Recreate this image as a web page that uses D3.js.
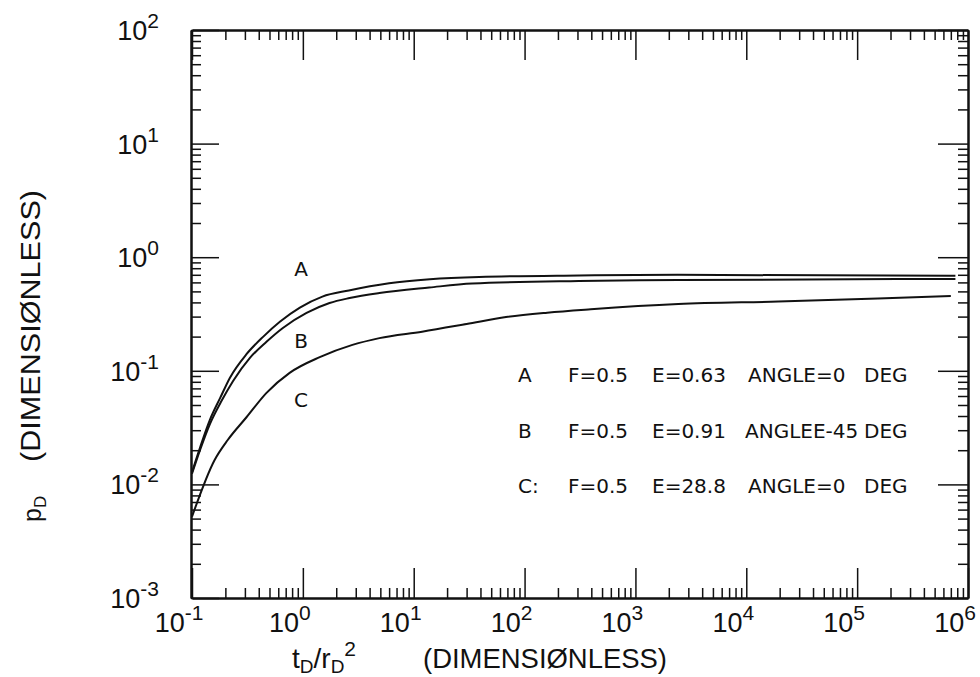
<!DOCTYPE html>
<html>
<head>
<meta charset="utf-8">
<script src="https://cdn.jsdelivr.net/npm/d3@7"></script>
<style>
  html, body { margin: 0; padding: 0; background: #fff; }
  svg { display: block; }
  text { font-family: "Liberation Sans", Arial, sans-serif; fill: #111; }
  .legend text, .curve-label { font-family: "DejaVu Sans", "Liberation Sans", sans-serif; }
</style>
</head>
<body>
<svg id="chart" width="980" height="677"></svg>
<script>
// Dimensionless pressure p_D against dimensionless time t_D/r_D^2, three cases

// Case A: F=0.5, E=0.63, angle 0 deg
const timeA = [0.1, 0.118, 0.145, 0.18, 0.22, 0.31, 0.44, 0.62, 0.94, 1.5, 2.6, 6, 14, 39, 310, 2400, 7.7e5];
const pressureA = [0.0128, 0.021, 0.037, 0.058, 0.087, 0.14, 0.2, 0.27, 0.36, 0.45, 0.51, 0.59, 0.64, 0.67, 0.69, 0.70, 0.685];

// Case B: F=0.5, E=0.91, angle 45 deg
const timeB = [0.1, 0.118, 0.145, 0.186, 0.234, 0.333, 0.47, 0.66, 1.08, 1.74, 2.64, 4.9, 13.8, 33.7, 308, 2440, 7.7e5];
const pressureB = [0.0124, 0.020, 0.034, 0.055, 0.081, 0.13, 0.18, 0.238, 0.323, 0.395, 0.437, 0.484, 0.541, 0.586, 0.617, 0.629, 0.643];

// Case C: F=0.5, E=28.8, angle 0 deg
const timeC = [0.1, 0.16, 0.21, 0.31, 0.47, 0.76, 1.42, 2.8, 4.9, 11.9, 30, 68, 160, 395, 2440, 1.94e4, 1.54e5, 7e5];
const pressureC = [0.0052, 0.0164, 0.0246, 0.039, 0.064, 0.096, 0.132, 0.169, 0.194, 0.221, 0.258, 0.297, 0.325, 0.348, 0.387, 0.407, 0.432, 0.455];

const curveNames = ["A", "B", "C"];
const legendRows = [
  ["A", "F=0.5", "E=0.63", "ANGLE=0", "DEG"],
  ["B", "F=0.5", "E=0.91", "ANGLEE-45", "DEG"],
  ["C:", "F=0.5", "E=28.8", "ANGLE=0", "DEG"]
];
const xTickExponents = [-1, 0, 1, 2, 3, 4, 5, 6];
const yTickExponents = [-3, -2, -1, 0, 1, 2];

// ---- layout ----
const plot = { left: 191, right: 968, top: 30, bottom: 598 };
const svg = d3.select("#chart");

const x = d3.scaleLog().domain([0.1, 1e6]).range([plot.left + 1, plot.right]);
const y = d3.scaleLog().domain([1e-3, 1e2]).range([plot.bottom, plot.top]);

const majorX = xTickExponents.map(e => Math.pow(10, e));
const majorY = yTickExponents.map(e => Math.pow(10, e));
const isPow10 = v => Math.abs(Math.log10(v) - Math.round(Math.log10(v))) < 1e-9;
const minorX = x.ticks().filter(v => !isPow10(v));
const minorY = y.ticks().filter(v => !isPow10(v));

// ---- axes: ticks point into the plot on all four sides ----
function styleAxis(g) {
  g.select(".domain").attr("stroke", "#111").attr("stroke-width", 2);
  g.selectAll(".tick line").attr("stroke", "#111").attr("stroke-width", 1.5);
  g.selectAll(".tick text").remove();
}

const axes = svg.append("g").attr("class", "axes");

// bottom
axes.append("g").attr("transform", `translate(0,${plot.bottom})`)
  .call(d3.axisBottom(x).tickValues(minorX).tickSize(-10).tickSizeOuter(0)).call(styleAxis);
axes.append("g").attr("transform", `translate(0,${plot.bottom})`)
  .call(d3.axisBottom(x).tickValues(majorX).tickSize(-30).tickSizeOuter(0)).call(styleAxis);
// top
axes.append("g").attr("transform", `translate(0,${plot.top})`)
  .call(d3.axisTop(x).tickValues(minorX).tickSize(-10).tickSizeOuter(0)).call(styleAxis);
axes.append("g").attr("transform", `translate(0,${plot.top})`)
  .call(d3.axisTop(x).tickValues(majorX).tickSize(-30).tickSizeOuter(0)).call(styleAxis);
// left
axes.append("g").attr("transform", `translate(${plot.left},0)`)
  .call(d3.axisLeft(y).tickValues(minorY).tickSize(-10).tickSizeOuter(0)).call(styleAxis);
axes.append("g").attr("transform", `translate(${plot.left},0)`)
  .call(d3.axisLeft(y).tickValues(majorY).tickSize(-28).tickSizeOuter(0)).call(styleAxis);
// right
axes.append("g").attr("transform", `translate(${plot.right},0)`)
  .call(d3.axisRight(y).tickValues(minorY).tickSize(-10).tickSizeOuter(0)).call(styleAxis);
axes.append("g").attr("transform", `translate(${plot.right},0)`)
  .call(d3.axisRight(y).tickValues(majorY).tickSize(-30).tickSizeOuter(0)).call(styleAxis);

// ---- tick labels as powers of ten ----
const yLabels = svg.append("g").attr("class", "y-labels");
yTickExponents.forEach(e => {
  const t = yLabels.append("text")
    .attr("x", 159).attr("y", y(Math.pow(10, e)) + 10)
    .attr("text-anchor", "end").attr("font-size", 27);
  t.append("tspan").text("10");
  t.append("tspan").attr("dy", -12).attr("font-size", 21).text(String(e));
});

const xLabels = svg.append("g").attr("class", "x-labels");
xTickExponents.forEach(e => {
  const t = xLabels.append("text")
    .attr("x", x(Math.pow(10, e)) - 13).attr("y", 632)
    .attr("text-anchor", "middle").attr("font-size", 27);
  t.append("tspan").text("10");
  t.append("tspan").attr("dy", -12).attr("font-size", 21).text(String(e));
});

// ---- axis titles ----
const xTitle = svg.append("text").attr("x", 292).attr("y", 668).attr("font-size", 28);
xTitle.append("tspan").text("t");
xTitle.append("tspan").attr("dy", 5).attr("font-size", 19).text("D");
xTitle.append("tspan").attr("dy", -5).text("/r");
xTitle.append("tspan").attr("dy", 5).attr("font-size", 19).text("D");
xTitle.append("tspan").attr("dy", -17).attr("font-size", 21).text("2");
svg.append("text").attr("x", 423).attr("y", 668).attr("font-size", 27)
  .attr("textLength", 244).attr("lengthAdjust", "spacingAndGlyphs")
  .text("(DIMENSIØNLESS)");

const yTitle = svg.append("text").attr("transform", "translate(41,522) rotate(-90)").attr("font-size", 25);
yTitle.append("tspan").text("p");
yTitle.append("tspan").attr("dy", 5).attr("font-size", 17).text("D");
svg.append("text").attr("transform", "translate(40,462) rotate(-90)").attr("font-size", 27)
  .attr("textLength", 272).attr("lengthAdjust", "spacingAndGlyphs")
  .text("(DIMENSIØNLESS)");

// ---- curves ----
const line = d3.line()
  .x(d => x(d[0]))
  .y(d => y(d[1]))
  .curve(d3.curveMonotoneX);

const curveData = [
  d3.zip(timeA, pressureA),
  d3.zip(timeB, pressureB),
  d3.zip(timeC, pressureC)
];

svg.append("g").attr("class", "curves")
  .selectAll("path").data(curveData).join("path")
  .attr("d", line)
  .attr("fill", "none")
  .attr("stroke", "#111")
  .attr("stroke-width", 2);

// curve letters placed beside the rising part of each curve
const labelPos = [[301, 276], [301, 348], [301, 407]];
svg.append("g").selectAll("text").data(curveNames).join("text")
  .attr("class", "curve-label")
  .attr("x", (d, i) => labelPos[i][0]).attr("y", (d, i) => labelPos[i][1])
  .attr("text-anchor", "middle").attr("font-size", 20)
  .text(d => d);

// ---- legend ----
const legendCols = [518, 568, 652, 748, 864];
const legend = svg.append("g").attr("class", "legend");
legendRows.forEach((row, r) => {
  row.forEach((cell, c) => {
    legend.append("text")
      .attr("x", legendCols[c] - (r === 1 && c === 3 ? 3 : 0))
      .attr("y", 382 + r * 55.5)
      .attr("font-size", 20)
      .text(cell);
  });
});
</script>
</body>
</html>
